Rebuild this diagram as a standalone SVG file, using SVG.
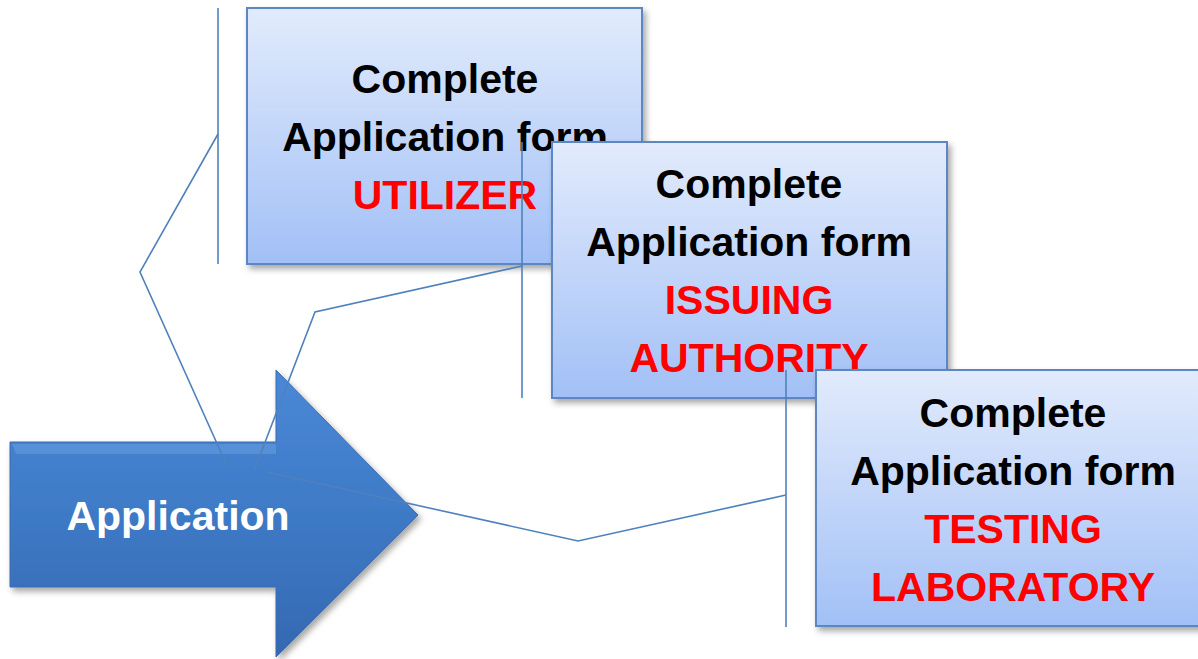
<svg xmlns="http://www.w3.org/2000/svg" width="1198" height="659" viewBox="0 0 1198 659">
<defs>
<linearGradient id="boxGrad" x1="0" y1="0" x2="0" y2="1">
<stop offset="0" stop-color="#E2EBFC"/>
<stop offset="1" stop-color="#A2C0F6"/>
</linearGradient>
<linearGradient id="arrowGrad" x1="0" y1="0" x2="0" y2="1">
<stop offset="0" stop-color="#4A88D6"/>
<stop offset="0.5" stop-color="#3E7AC6"/>
<stop offset="1" stop-color="#3568B2"/>
</linearGradient>
<filter id="shadow" x="-10%" y="-10%" width="125%" height="125%">
<feDropShadow dx="3" dy="4" stdDeviation="3" flood-color="#000" flood-opacity="0.35"/>
</filter>
</defs>
<style>
.box{fill:url(#boxGrad);stroke:#5B87C2;stroke-width:2;filter:url(#shadow)}
.t{font-family:"Liberation Sans",Arial,sans-serif;font-weight:bold;font-size:41px;text-anchor:middle}
.k{fill:#000}
.r{fill:#FF0000}
.conn{fill:none;stroke:#4F81BD;stroke-width:1.6}
</style>
<g id="application">
<path d="M10 442 L276 442 L276 370 L418 515 L276 657 L276 587 L10 587 Z" fill="url(#arrowGrad)" stroke="#3A6DB3" stroke-width="1" filter="url(#shadow)"/>
<path d="M12 444 L276 444 L276 454 L16 454 Z" fill="#6AA0E2" opacity="0.5"/>
<text class="t" x="178" y="530" fill="#FFFFFF">Application</text>
</g>
<g id="utilizer">
<rect class="box" x="247" y="8" width="395" height="256"/>
<text class="t k" x="445" y="93">Complete</text>
<text class="t k" x="445" y="151">Application form</text>
<text class="t r" x="445" y="209">UTILIZER</text>
</g>
<g id="issuing-authority">
<rect class="box" x="552" y="142" width="395" height="256"/>
<text class="t k" x="749" y="198">Complete</text>
<text class="t k" x="749" y="256">Application form</text>
<text class="t r" x="749" y="314">ISSUING</text>
<text class="t r" x="749" y="372">AUTHORITY</text>
</g>
<g id="testing-laboratory">
<rect class="box" x="816" y="370" width="395" height="256"/>
<text class="t k" x="1013" y="427">Complete</text>
<text class="t k" x="1013" y="485">Application form</text>
<text class="t r" x="1013" y="543">TESTING</text>
<text class="t r" x="1013" y="601">LABORATORY</text>
</g>
<g id="connectors">
<line class="conn" x1="218" y1="8" x2="218" y2="264"/>
<polyline class="conn" points="218,134 140,272 228,468"/>
<line class="conn" x1="522" y1="142" x2="522" y2="398"/>
<polyline class="conn" points="522,266 315,312 254,471"/>
<line class="conn" x1="786" y1="370" x2="786" y2="627"/>
<polyline class="conn" points="786,495 578,541 267,472"/>
</g>
</svg>
